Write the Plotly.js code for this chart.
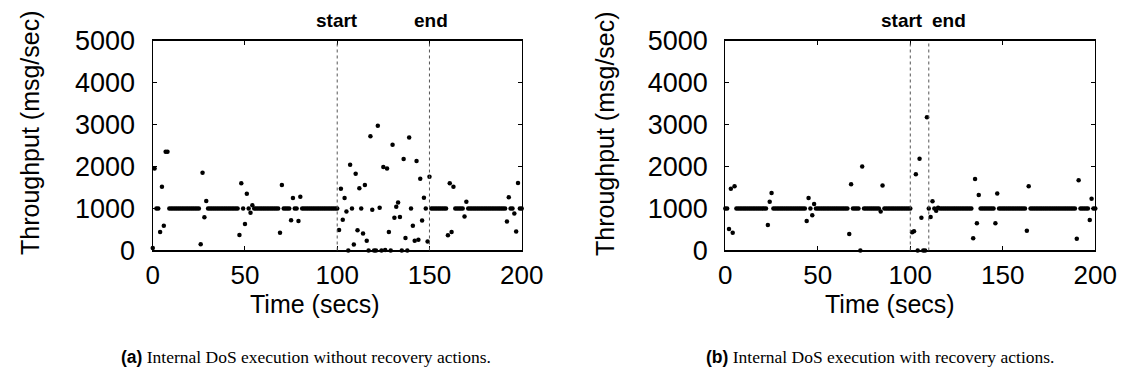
<!DOCTYPE html>
<html><head><meta charset="utf-8">
<script src="https://cdn.plot.ly/plotly-3.0.1.min.js"></script>
<style>html,body{margin:0;padding:0;background:#fff}#chart{width:1128px;height:380px}</style>
</head><body><div id="chart"></div>
<script>
const timeSecs = [
  0,1,2,3,4,5,6,7,8,9,10,11,12,13,14,15,16,17,18,19,
  20,21,22,23,24,25,26,27,28,29,30,31,32,33,34,35,36,37,38,39,
  40,41,42,43,44,45,46,47,48,49,50,51,52,53,54,55,56,57,58,59,
  60,61,62,63,64,65,66,67,68,69,70,71,72,73,74,75,76,77,78,79,
  80,81,82,83,84,85,86,87,88,89,90,91,92,93,94,95,96,97,98,99,
  100,101,102,103,104,105,106,107,108,109,110,111,112,113,114,115,116,117,118,119,
  120,121,122,123,124,125,126,127,128,129,130,131,132,133,134,135,136,137,138,139,
  140,141,142,143,144,145,146,147,148,149,150,151,152,153,154,155,156,157,158,159,
  160,161,162,163,164,165,166,167,168,169,170,171,172,173,174,175,176,177,178,179,
  180,181,182,183,184,185,186,187,188,189,190,191,192,193,194,195,196,197,198,199,
  200
];

// (a) without recovery actions
const throughputNoRecovery = [
  60,1950,1000,1000,440,1520,590,2350,2350,1000,
  1000,1000,1000,1000,1000,1000,1000,1000,1000,1000,
  1000,1000,1000,1000,1000,1000,150,1850,790,1180,
  1000,1000,1000,1000,1000,1000,1000,1000,1000,1000,
  1000,1000,1000,1000,1000,1000,1000,370,1600,1000,
  630,1350,1000,900,1080,1000,1000,1000,1000,1000,
  1000,1000,1000,1000,1000,1000,1000,1000,1000,420,
  1560,1000,1000,1000,1000,720,1250,1000,1000,700,
  1280,1000,1000,1000,1000,1000,1000,1000,1000,1000,
  1000,1000,1000,1000,1000,1000,1000,1000,1000,1000,
  1000,490,1470,730,1250,930,0,2040,1000,140,
  1830,485,1480,1000,405,1560,230,0,2720,970,
  0,0,2970,1020,0,1990,10,1950,440,0,
  2520,780,1040,1140,800,0,2180,295,0,2690,
  1000,590,230,2130,255,1710,715,1255,1000,215,
  1755,1000,1000,1000,1000,1000,1000,1000,1000,1000,
  365,1600,440,1520,1000,1000,1000,1000,1000,810,
  1160,1000,1000,1000,1000,1000,1000,1000,1000,1000,
  1000,1000,1000,1000,1000,1000,1000,1000,1000,1000,
  1000,1000,690,1270,1000,1000,880,450,1610,1000,
  1000
];

// (b) with recovery actions
const throughputWithRecovery = [
  1000,1000,510,1470,420,1530,1000,1000,1000,1000,
  1000,1000,1000,1000,1000,1000,1000,1000,1000,1000,
  1000,1000,1000,610,1160,1370,1000,1000,1000,1000,
  1000,1000,1000,1000,1000,1000,1000,1000,1000,1000,
  1000,1000,1000,1000,700,1250,1000,840,1110,1000,
  1000,1000,1000,1000,1000,1000,1000,1000,1000,1000,
  1000,1000,1000,1000,1000,1000,1000,390,1580,1000,
  1000,1000,1000,0,2000,1000,1000,1000,1000,1000,
  1000,1000,1000,1000,930,1550,1000,1000,1000,1000,
  1000,1000,1000,1000,1000,1000,1000,1000,1000,1000,
  1000,433,457,1814,0,2186,781,0,0,3170,
  1000,798,1171,1000,948,1020,1000,1000,1000,1000,
  1000,1000,1000,1000,1000,1000,1000,1000,1000,1000,
  1000,1000,1000,1000,290,1700,650,1320,1000,1000,
  1000,1000,1000,1000,1000,1000,650,1360,1000,1000,
  1000,1000,1000,1000,1000,1000,1000,1000,1000,1000,
  1000,1000,1000,470,1530,1000,1000,1000,1000,1000,
  1000,1000,1000,1000,1000,1000,1000,1000,1000,1000,
  1000,1000,1000,1000,1000,1000,1000,1000,1000,1000,
  280,1670,1000,1000,1000,1000,1000,726,1233,1000,
  1000
];

const attackStartA = 100, attackEndA = 150;
const attackStartB = 100, attackEndB = 110;
const xTickVals = [0, 50, 100, 150, 200];
const yTickVals = [0, 1000, 2000, 3000, 4000, 5000];
const xTitle = 'Time (secs)';
const yTitle = 'Throughput (msg/sec)';
const captionA = ['(a)', 'Internal DoS execution without recovery actions.'];
const captionB = ['(b)', 'Internal DoS execution with recovery actions.'];

const SANS = 'Liberation Sans, Arial, Helvetica, sans-serif';
const SERIF = 'Liberation Serif, Times New Roman, serif';

function pt(x, y, xa, ya) {
  return {
    x: x, y: y, xaxis: xa, yaxis: ya, type: 'scatter', mode: 'markers',
    marker: {color: '#000', size: 4.5}, cliponaxis: false, hoverinfo: 'x+y', showlegend: false
  };
}

const traces = [
  pt(timeSecs, throughputNoRecovery, 'x', 'y'),
  pt(timeSecs, throughputWithRecovery, 'x2', 'y2')
];

const yDom = [0.3408, 0.8934];
function xax(dom, anchor) {
  return {
    domain: dom, anchor: anchor, range: [0, 200], tickvals: xTickVals,
    showline: true, linecolor: '#000', linewidth: 1.2, mirror: 'allticks',
    ticks: 'inside', ticklen: 4, tickcolor: '#000', tickwidth: 1,
    showgrid: false, zeroline: false, fixedrange: true, ticklabelstandoff: 1,
    tickfont: {family: SANS, size: 26, color: '#000'}
  };
}
function yax(anchor) {
  return {
    domain: yDom, anchor: anchor, range: [0, 5000], tickvals: yTickVals,
    showline: true, linecolor: '#000', linewidth: 1.2, mirror: 'allticks',
    ticks: 'inside', ticklen: 4, tickcolor: '#000', tickwidth: 1,
    showgrid: false, zeroline: false, fixedrange: true, ticklabelstandoff: 11,
    tickfont: {family: SANS, size: 27, color: '#000'}
  };
}

function vline(xref, yref, xv) {
  return {type: 'line', xref: xref, yref: yref + ' domain', x0: xv, x1: xv, y0: 0, y1: 1,
          line: {color: '#555', width: 1, dash: 'dot'}};
}
function marker(xref, xv, text, shift) {
  return {xref: xref, yref: 'paper', x: xv, y: 0.947, text: '<b>' + text + '</b>',
          showarrow: false, xanchor: 'center', yanchor: 'middle', xshift: shift,
          font: {family: SANS, size: 19, color: '#000'}};
}
function caption(x, c) {
  return {xref: 'paper', yref: 'paper', x: x, y: 0.06, xanchor: 'center', yanchor: 'middle', showarrow: false,
          text: '<span style="font-family:Liberation Sans, Arial, sans-serif;font-weight:bold">' + c[0] + '</span> ' + c[1],
          font: {family: SERIF, size: 17.5, color: '#000'}};
}
function xTitleAnn(x) {
  return {xref: 'paper', yref: 'paper', x: x, y: 0.199, xanchor: 'center', yanchor: 'middle', showarrow: false,
          text: xTitle, font: {family: SANS, size: 25, color: '#000'}};
}
function yTitleAnn(x) {
  return {xref: 'paper', yref: 'paper', x: x, y: 0.65, xanchor: 'center', yanchor: 'middle', showarrow: false,
          textangle: -90, text: yTitle, font: {family: SANS, size: 25, color: '#000'}};
}

const layout = {
  width: 1128, height: 380,
  margin: {l: 0, r: 0, t: 0, b: 0},
  paper_bgcolor: '#fff', plot_bgcolor: '#fff',
  font: {family: SANS, color: '#000'},
  xaxis: xax([0.1354, 0.4625], 'y'),
  yaxis: yax('x'),
  xaxis2: xax([0.643, 0.971], 'y2'),
  yaxis2: yax('x2'),
  shapes: [
    vline('x', 'y', attackStartA), vline('x', 'y', attackEndA),
    vline('x2', 'y2', attackStartB), vline('x2', 'y2', attackEndB)
  ],
  annotations: [
    marker('x', attackStartA, 'start', 0), marker('x', attackEndA, 'end', 2),
    marker('x2', attackStartB, 'start', -8), marker('x2', attackEndB, 'end', 20),
    xTitleAnn(0.2793), xTitleAnn(0.789),
    yTitleAnn(0.0266), yTitleAnn(0.5363),
    caption(0.2713, captionA), caption(0.780, captionB)
  ]
};

Plotly.newPlot('chart', traces, layout, {staticPlot: true, displayModeBar: false});
</script>
</body></html>
